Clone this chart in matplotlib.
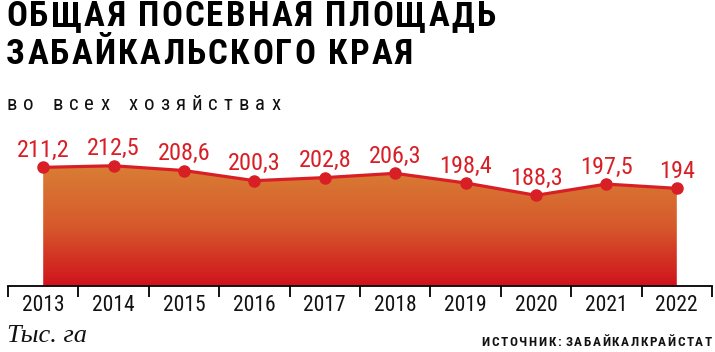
import matplotlib
matplotlib.use("Agg")
import matplotlib.pyplot as plt
import numpy as np
from matplotlib.colors import LinearSegmentedColormap

# посевная площадь, тыс. га
years = ['2013', '2014', '2015', '2016', '2017', '2018', '2019', '2020', '2021', '2022']
values = [211.2, 212.5, 208.6, 200.3, 202.8, 206.3, 198.4, 188.3, 197.5, 194]
labels = ['211,2', '212,5', '208,6', '200,3', '202,8', '206,3', '198,4', '188,3', '197,5', '194']

narrow = ['Liberation Sans Narrow', 'Roboto Condensed', 'DejaVu Sans']
RED = '#d81f26'

W, H = 715, 352
fig = plt.figure(figsize=(W / 100, H / 100), dpi=100)
ax = fig.add_axes([8 / W, 1 - 286 / H, 704 / W, 166 / H])

x = np.arange(len(years))
ymin, ymax = 114, 250
ax.set_xlim(-0.5, len(years) - 0.5)
ax.set_ylim(ymin, ymax)

# заливка с градиентом
poly = ax.fill_between(x, values, ymin, color='none', lw=0)
cmap = LinearSegmentedColormap.from_list('g', ['#d0121c', '#d65a2c', '#d97e35'])
grad = np.linspace(0, 1, 256).reshape(-1, 1)
img = ax.imshow(grad, cmap=cmap, aspect='auto', origin='lower',
                extent=[x[0], x[-1], ymin, max(values)], zorder=1)
img.set_clip_path(poly.get_paths()[0], transform=ax.transData)

ax.plot(x, values, color=RED, lw=2.3, marker='o', ms=8, zorder=3)
for xi, v, lab in zip(x, values, labels):
    ax.annotate(lab, (xi, v), xytext=(0, 7.5), textcoords='offset points',
                ha='center', va='baseline', color=RED, fontsize=17.5, family=narrow)

for s in ['top', 'right', 'left']:
    ax.spines[s].set_visible(False)
ax.spines['bottom'].set_linewidth(1.3)
ax.set_yticks([])
ax.set_xticks(np.arange(len(years) + 1) - 0.5)
ax.set_xticklabels([])
ax.tick_params(axis='x', length=8, width=1.3, direction='out')
for xi, yr in zip(x, years):
    ax.text(xi, -0.115, yr, transform=ax.get_xaxis_transform(), ha='center', va='center',
            fontsize=15.5, family=narrow, color='#111111')

renderer = fig.canvas.get_renderer()


def spaced(x0, y0, s, track, gap=None, right=False, **kw):
    # текст с разрядкой (matplotlib не умеет letter-spacing)
    if gap is None:
        gap = track * 2.2
    xp = x0
    parts = []
    for ch in s:
        if ch == ' ':
            xp += gap
            continue
        t = fig.text(xp / W, 1 - y0 / H, ch, va='center', ha='left', **kw)
        parts.append(t)
        w = t.get_window_extent(renderer).width
        xp += w + track
    if right:
        shift = (x0 - (xp - track)) / W
        for t in parts:
            px, py = t.get_position()
            t.set_position((px + shift, py))


# заголовок
spaced(6, 17, 'ОБЩАЯ ПОСЕВНАЯ ПЛОЩАДЬ', 2.3, gap=10, fontsize=25, fontweight='bold', family=narrow)
spaced(6, 54, 'ЗАБАЙКАЛЬСКОГО КРАЯ', 2.3, gap=10, fontsize=25, fontweight='bold', family=narrow)

spaced(6, 104, 'во всех хозяйствах', 6.0, fontsize=15, family=narrow, color='#111111')
spaced(712, 342, 'ИСТОЧНИК: ЗАБАЙКАЛКРАЙСТАТ', 1.6, right=True, fontsize=9.5,
       fontweight='bold', family=narrow, color='#111111')

fig.text(7 / W, 1 - 336 / H, 'Тыс. га', fontsize=19, style='italic',
         family='Liberation Serif', va='center', ha='left', color='#111111')

fig.savefig('out.png', dpi=100)
